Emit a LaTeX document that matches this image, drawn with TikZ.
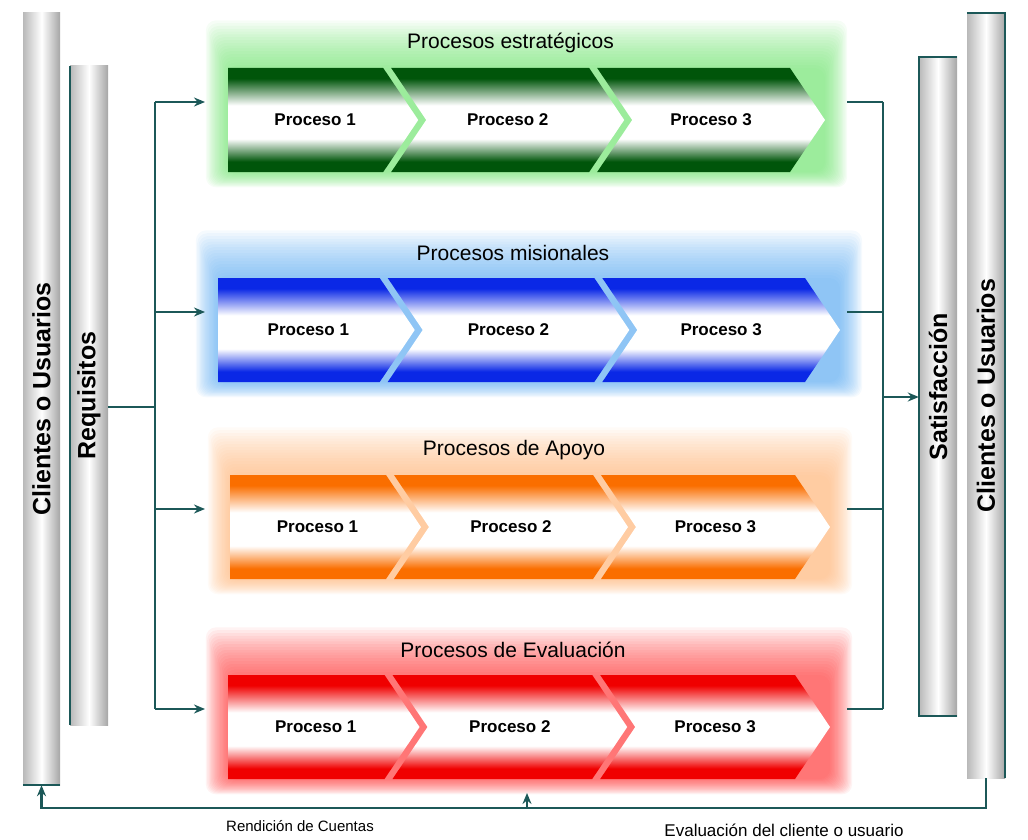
\documentclass[tikz,border=0pt]{standalone}
\usepackage{fontspec}
\setmainfont{Liberation Sans}
\usetikzlibrary{arrows.meta,positioning}

\definecolor{linkteal}{RGB}{28,88,88}
\definecolor{estdark}{RGB}{0,85,10}
\definecolor{estglow}{RGB}{100,225,100}
\definecolor{misdark}{RGB}{10,40,230}
\definecolor{misglow}{RGB}{80,165,240}
\definecolor{apodark}{RGB}{250,110,0}
\definecolor{apoglow}{RGB}{255,175,110}
\definecolor{evadark}{RGB}{240,0,0}
\definecolor{evaglow}{RGB}{255,40,40}
\colorlet{procdk}{estdark}

\pgfdeclareverticalshading[procdk]{procshade}{100bp}{%
  color(0bp)=(procdk); color(30bp)=(procdk); color(41bp)=(white);
  color(57bp)=(white); color(70bp)=(procdk); color(100bp)=(procdk)}

\tikzset{
  link/.style={draw=linkteal, line width=2.4pt},
  tip/.style={-{Stealth[length=11pt,width=9pt]}},
  rim/.style={draw=linkteal, line width=1.5pt},
  pillar/.style={left color=gray!55, right color=gray!70, middle color=white,
    inner sep=0pt},
  pillartext/.style={rotate=90, font=\fontsize{25}{30}\selectfont\bfseries},
  rowtitle/.style={font=\fontsize{21}{25}\selectfont},
  proctext/.style={font=\fontsize{17}{20}\selectfont\bfseries},
}

\begin{document}
\begin{tikzpicture}[x=1pt, y=-1pt]
  \useasboundingbox (0,0) rectangle (1028,840);

  % columnas laterales
  \node[pillar, minimum width=37pt, minimum height=772pt] (cliL) at (41.5,399) {};
  \node[pillar, minimum width=38pt, minimum height=659pt] (req) at (89,395.5) {};
  \node[pillar, minimum width=38pt, minimum height=659pt] (sat) at (938,386.5) {};
  \node[pillar, minimum width=38pt, minimum height=765pt] (cliR) at (986,395.5) {};

  \node[pillartext] (cliLtxt) at (cliL) {Clientes o Usuarios};
  \node[pillartext] (reqtxt) at (req) {Requisitos};
  \node[pillartext] (sattxt) at (sat) {Satisfacción};
  \node[pillartext] (cliRtxt) at (cliR) {Clientes o Usuarios};

  \draw[rim] (cliL.south west) -- (cliL.south east);
  \draw[rim] (req.north west) -- (req.south west);
  \draw[rim] (sat.south east) -- (sat.south west) -- (sat.north west) -- (sat.north east);
  \draw[rim] (cliR.north west) -- (cliR.north east) -- (cliR.south east);

  % filas de procesos
  \foreach \n/\dk/\gl/\yt/\L/\R/\ttl in {
      1/estdark/estglow/68/228/825/{Procesos estratégicos},
      2/misdark/misglow/278/218/840/{Procesos misionales},
      3/apodark/apoglow/475/230/830/{Procesos de Apoyo},
      4/evadark/evaglow/675/228/830/{Procesos de Evaluación}}
  {
    \colorlet{procdk}{\dk}
    \pgfmathsetmacro{\yb}{\yt+104}
    \pgfmathsetmacro{\ym}{\yt+52}
    \pgfmathsetmacro{\aa}{\L+0.26*(\R-\L)}
    \pgfmathsetmacro{\bb}{\L+0.605*(\R-\L)}
    \foreach \k in {0,...,17}
      \fill[\gl, opacity=0.055, rounded corners=10pt]
        (\L-1.3*\k,\yt-2.8*\k) rectangle (\R+1.3*\k,\yb+0.9*\k);
    \shade[shading=procshade]
      (\L,\yt) -- (\aa,\yt) -- (\aa+35,\ym) -- (\aa,\yb) -- (\L,\yb) -- cycle;
    \shade[shading=procshade]
      (\aa+8,\yt) -- (\bb,\yt) -- (\bb+35,\ym) -- (\bb,\yb) -- (\aa+8,\yb)
      -- (\aa+43,\ym) -- cycle;
    \shade[shading=procshade]
      (\bb+8,\yt) -- (\R-35,\yt) -- (\R,\ym) -- (\R-35,\yb) -- (\bb+8,\yb)
      -- (\bb+43,\ym) -- cycle;
    \node[rowtitle] (t\n) at ({(\L+\R)/2-16},\yt-25) {\ttl};
    \node[proctext] (p\n-1) at ({(\L+\aa+35)/2-8},\ym) {Proceso 1};
    \node[proctext] (p\n-2) at ({(\aa+\bb+43)/2},\ym) {Proceso 2};
    \node[proctext] (p\n-3) at ({(\bb+\R+8)/2},\ym) {Proceso 3};
    \coordinate (in\n) at (205,\yt+34);
    \coordinate (out\n) at (847,\yt+34);
  }

  % conexiones
  \coordinate (lbus) at (155,407);
  \coordinate (rbus) at (883,397);
  \draw[link] (req.east |- lbus) -- (lbus);
  \draw[link] (lbus |- in1) -- (lbus |- in4);
  \foreach \n in {1,...,4} {
    \draw[link, tip] (lbus |- in\n) -- (in\n);
    \draw[link] (out\n) -- (rbus |- out\n);
  }
  \draw[link] (rbus |- out1) -- (rbus |- out4);
  \draw[link, tip] (rbus) -- (sat.west |- rbus);

  \coordinate (loop) at (527,808);
  \draw[link, tip] (cliR.south) |- (loop) -| (cliL.south);
  \draw[link, tip] (loop) -- ++(0,-15);

  \node[font=\fontsize{15}{18}\selectfont] (rend) at (300,826) {Rendición de Cuentas};
  \node[font=\fontsize{17}{20}\selectfont] (evcl) at (784,830) {Evaluación del cliente o usuario};
\end{tikzpicture}
\end{document}
